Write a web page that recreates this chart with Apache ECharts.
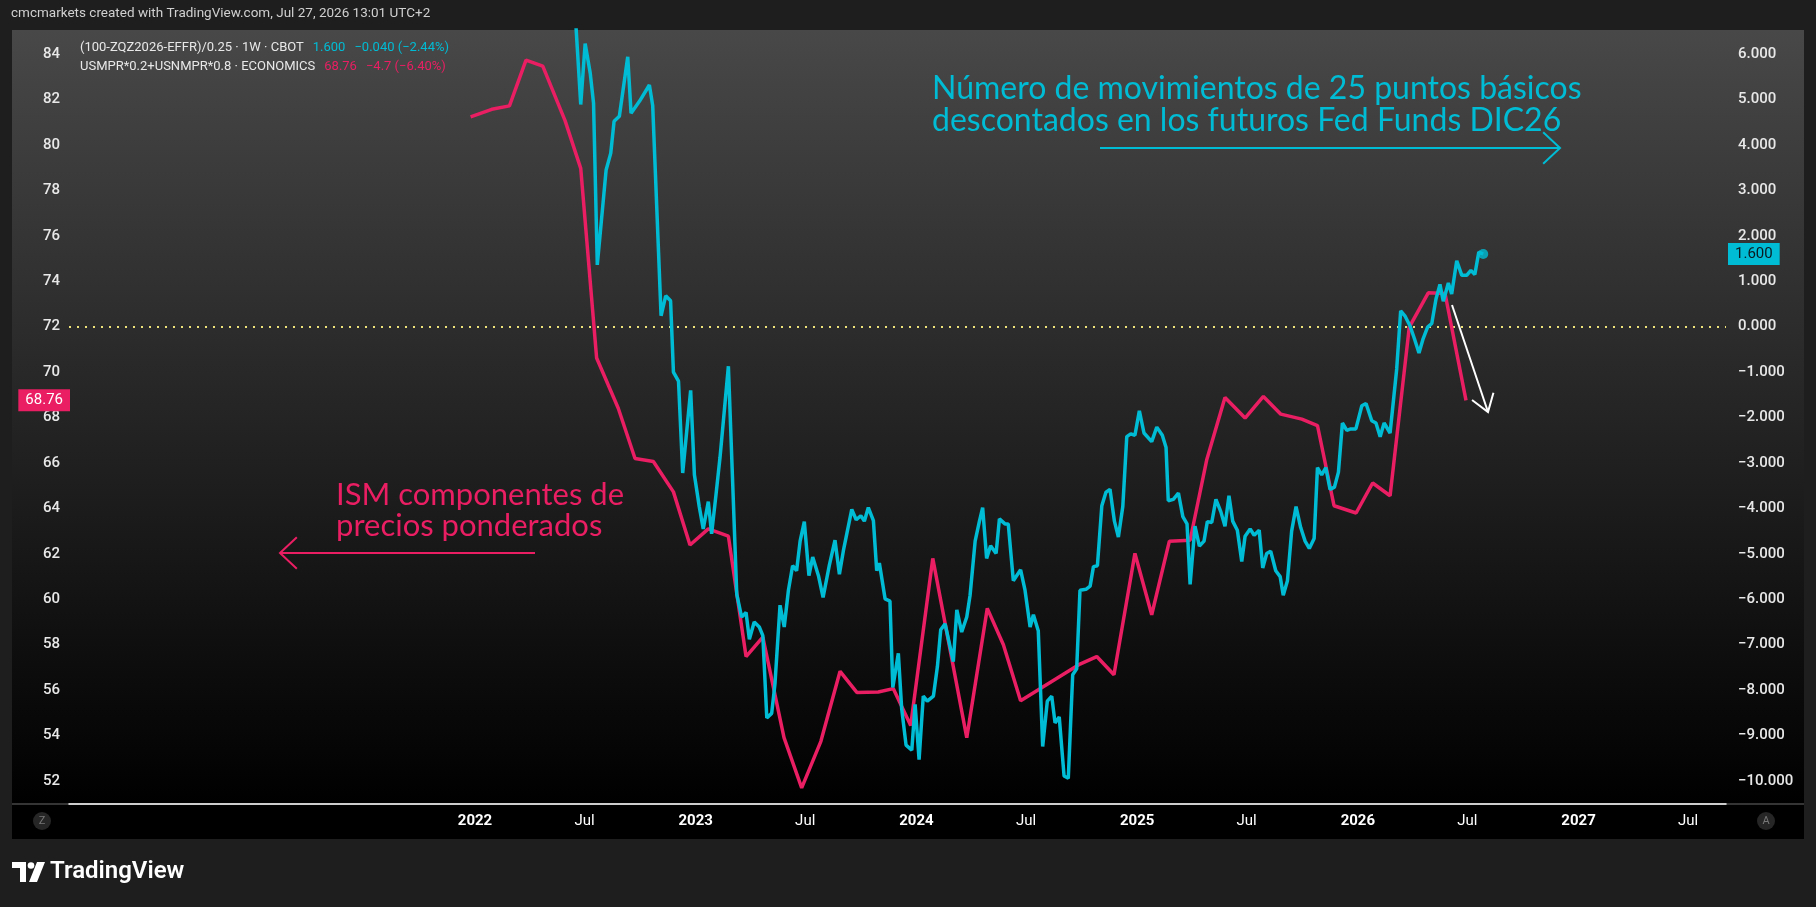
<!DOCTYPE html>
<html><head><meta charset="utf-8">
<script src="https://cdn.jsdelivr.net/npm/echarts@6/dist/echarts.min.js"></script>
<style>html,body{margin:0;padding:0;background:#1e1e1e;overflow:hidden}#c{width:1816px;height:907px}</style>
</head><body><div id="c"></div>
<script>
// ---------- data ----------
const xTickValues = [2022, 2022.496, 2023, 2023.496, 2024, 2024.497, 2025, 2025.496, 2026, 2026.496, 2027, 2027.496];
const leftTicks = [52, 54, 56, 58, 60, 62, 64, 66, 68, 70, 72, 74, 76, 78, 80, 82, 84];
const rightTicks = [-10, -9, -8, -7, -6, -5, -4, -3, -2, -1, 0, 1, 2, 3, 4, 5, 6];
const zeroLevel = 72; // left-axis level that lines up with 0 on the right axis

// ISM prices (weighted) – left axis, monthly
const ismT = [2021.980, 2022.076, 2022.156, 2022.231, 2022.307, 2022.408, 2022.479, 2022.551, 2022.649, 2022.725,
  2022.808, 2022.899, 2022.974, 2023.057, 2023.148, 2023.228, 2023.304, 2023.400, 2023.480, 2023.567,
  2023.654, 2023.730, 2023.827, 2023.895, 2023.974, 2024.074, 2024.228, 2024.321, 2024.394, 2024.472,
  2024.741, 2024.817, 2024.895, 2024.990, 2025.066, 2025.146, 2025.240, 2025.315, 2025.398, 2025.489,
  2025.572, 2025.651, 2025.746, 2025.817, 2025.892, 2025.992, 2026.067, 2026.146, 2026.233, 2026.319,
  2026.395, 2026.490];
const ismV = [81.24, 81.57, 81.72, 83.73, 83.47, 81.07, 78.97, 70.62, 68.41, 66.20,
  66.07, 64.73, 62.39, 63.10, 62.78, 57.48, 58.34, 53.91, 51.70, 53.75,
  56.83, 55.90, 55.92, 56.07, 54.45, 61.80, 53.91, 59.60, 58.00, 55.53,
  57.15, 57.48, 56.68, 62.02, 59.32, 62.56, 62.60, 66.13, 68.88, 67.98,
  68.93, 68.15, 67.93, 67.65, 64.12, 63.80, 65.12, 64.56, 71.98, 73.49,
  73.46, 68.76];

// (100-ZQZ2026-EFFR)/0.25 – right axis, weekly
const ffT = [2022.450, 2022.479, 2022.499, 2022.522, 2022.537, 2022.554, 2022.594, 2022.615, 2022.630, 2022.654,
  2022.692, 2022.707, 2022.745, 2022.790, 2022.805, 2022.843, 2022.864, 2022.886, 2022.899, 2022.922,
  2022.941, 2022.977, 2022.994, 2023.016, 2023.034, 2023.057, 2023.072, 2023.092, 2023.110, 2023.148,
  2023.186, 2023.208, 2023.228, 2023.243, 2023.265, 2023.288, 2023.304, 2023.322, 2023.344, 2023.359,
  2023.382, 2023.401, 2023.420, 2023.439, 2023.457, 2023.473, 2023.492, 2023.513, 2023.530, 2023.556,
  2023.577, 2023.605, 2023.631, 2023.651, 2023.669, 2023.707, 2023.727, 2023.748, 2023.764, 2023.782,
  2023.805, 2023.820, 2023.832, 2023.858, 2023.880, 2023.893, 2023.918, 2023.933, 2023.953, 2023.979,
  2023.994, 2024.012, 2024.031, 2024.049, 2024.077, 2024.095, 2024.110, 2024.130, 2024.167, 2024.183,
  2024.205, 2024.228, 2024.243, 2024.266, 2024.285, 2024.300, 2024.318, 2024.336, 2024.361, 2024.376,
  2024.401, 2024.416, 2024.439, 2024.472, 2024.492, 2024.515, 2024.530, 2024.552, 2024.572, 2024.593,
  2024.613, 2024.628, 2024.647, 2024.669, 2024.688, 2024.708, 2024.726, 2024.741, 2024.768, 2024.787,
  2024.802, 2024.820, 2024.840, 2024.859, 2024.877, 2024.897, 2024.915, 2024.935, 2024.953, 2024.971,
  2024.990, 2025.010, 2025.031, 2025.066, 2025.089, 2025.114, 2025.131, 2025.141, 2025.164, 2025.187,
  2025.207, 2025.226, 2025.240, 2025.262, 2025.282, 2025.303, 2025.318, 2025.338, 2025.357, 2025.379,
  2025.398, 2025.416, 2025.433, 2025.454, 2025.474, 2025.489, 2025.512, 2025.530, 2025.553, 2025.569,
  2025.587, 2025.605, 2025.628, 2025.648, 2025.662, 2025.681, 2025.700, 2025.720, 2025.741, 2025.761,
  2025.780, 2025.802, 2025.817, 2025.836, 2025.855, 2025.874, 2025.894, 2025.912, 2025.930, 2025.950,
  2025.968, 2025.991, 2026.018, 2026.037, 2026.063, 2026.082, 2026.101, 2026.119, 2026.146, 2026.176,
  2026.194, 2026.213, 2026.236, 2026.256, 2026.277, 2026.296, 2026.316, 2026.335, 2026.354, 2026.372,
  2026.387, 2026.410, 2026.425, 2026.448, 2026.471, 2026.493, 2026.512, 2026.530, 2026.548, 2026.568];
const ffV = [7.20, 4.89, 6.23, 5.58, 4.92, 1.36, 3.45, 3.82, 4.52, 4.63,
  5.94, 4.70, 4.96, 5.32, 4.87, 0.24, 0.68, 0.57, -1.00, -1.20,
  -3.22, -1.40, -3.26, -3.96, -4.45, -3.85, -4.56, -3.69, -2.88, -0.87,
  -5.89, -6.39, -6.29, -6.88, -6.50, -6.61, -6.80, -8.61, -8.51, -7.86,
  -6.13, -6.61, -5.80, -5.26, -5.37, -4.72, -4.29, -5.48, -5.07, -5.48,
  -5.96, -5.26, -4.70, -5.45, -4.93, -4.02, -4.25, -4.16, -4.28, -3.98,
  -4.27, -5.37, -5.20, -5.99, -6.04, -7.94, -7.19, -8.40, -9.21, -9.32,
  -8.31, -9.53, -8.13, -8.24, -8.13, -7.48, -6.67, -6.54, -7.37, -6.23,
  -6.72, -6.39, -5.91, -4.72, -4.29, -3.98, -5.10, -4.82, -4.99, -4.23,
  -4.34, -4.34, -5.59, -5.35, -5.80, -6.61, -6.34, -6.69, -9.24, -8.24,
  -8.13, -8.72, -8.59, -9.89, -9.94, -7.66, -7.53, -5.80, -5.78, -5.71,
  -5.28, -5.26, -3.94, -3.64, -3.58, -4.28, -4.63, -3.96, -2.42, -2.36,
  -2.39, -1.85, -2.34, -2.53, -2.21, -2.39, -2.66, -3.83, -3.80, -3.66,
  -4.18, -4.34, -5.67, -4.39, -4.83, -4.72, -4.29, -4.31, -3.80, -4.07,
  -4.39, -3.72, -4.28, -4.48, -5.17, -4.61, -4.45, -4.59, -4.48, -5.31,
  -4.99, -4.94, -5.37, -5.50, -5.91, -5.59, -4.50, -3.96, -4.42, -4.72,
  -4.88, -4.66, -3.10, -3.26, -3.10, -3.58, -3.53, -3.20, -2.12, -2.28,
  -2.25, -2.25, -1.74, -1.69, -2.07, -2.12, -2.42, -2.12, -2.34, -0.93,
  0.35, 0.24, 0.02, -0.26, -0.58, -0.26, -0.01, 0.07, 0.61, 0.93,
  0.56, 0.96, 0.72, 1.45, 1.13, 1.13, 1.24, 1.15, 1.64, 1.60];

// ---------- derived ----------
const ismLast = ismV[ismV.length - 1], ismPrev = ismV[ismV.length - 2];
const ffLast = ffV[ffV.length - 1], ffPrev = ffV[ffV.length - 2];
const minus = s => s.replace(/-/g, '\u2212');
const ffChg = minus((ffLast - ffPrev).toFixed(3) + ' (' + ((ffLast - ffPrev) / ffPrev * 100).toFixed(2) + '%)');
const ismChg = minus((ismLast - ismPrev).toFixed(1) + ' (' + ((ismLast - ismPrev) / ismPrev * 100).toFixed(2) + '%)');

const CYAN = '#00bcd4', RED = '#e91e63', TXT = '#e8e8e8', DOT = '#efe47a';
const FONT = 'Roboto, "Noto Sans", sans-serif';
const ANNO = 'Lato, "Open Sans", sans-serif';

// layout (pixels)
const G = {left: 69, right: 1726, top: 30, bottom: 804};
const XMIN = 2020.1604, XMAX = 2027.668;
const LMIN = 50.99, LMAX = 85.06;
const RMIN = (LMIN - zeroLevel) / 2, RMAX = (LMAX - zeroLevel) / 2;

const chart = echarts.init(document.getElementById('c'), null, {renderer: 'canvas'});

function arrow(x1, y1, x2, y2, color, w, head, spread) {
  const a = Math.atan2(y2 - y1, x2 - x1);
  const p1 = [x2 - head * Math.cos(a - spread), y2 - head * Math.sin(a - spread)];
  const p2 = [x2 - head * Math.cos(a + spread), y2 - head * Math.sin(a + spread)];
  return [
    {type: 'line', z: 100, shape: {x1, y1, x2, y2}, style: {stroke: color, lineWidth: w}},
    {type: 'polyline', z: 100, shape: {points: [p1, [x2, y2], p2]}, style: {stroke: color, lineWidth: w, fill: null}}
  ];
}

function legendLine(y, label, value, chg, color) {
  return {type: 'text', z: 100, x: 80, y: y, style: {
    text: '{a|' + label + '}{v|' + value + '}{v|' + chg + '}',
    verticalAlign: 'middle',
    rich: {
      a: {fill: TXT, font: '13px ' + FONT},
      v: {fill: color, font: '13px ' + FONT, padding: [0, 0, 0, 9]}
    }
  }};
}

const graphics = [
  // pane background
  {type: 'rect', z: -100, silent: true, shape: {x: 12, y: 30, width: 1792, height: 774},
    style: {fill: new echarts.graphic.LinearGradient(0, 0, 0, 1, [{offset: 0, color: '#484848'}, {offset: 1, color: '#000000'}])}},
  {type: 'rect', z: -100, silent: true, shape: {x: 12, y: 804, width: 1792, height: 35}, style: {fill: '#000000'}},
  {type: 'line', z: -90, silent: true, shape: {x1: 12, y1: 804, x2: 1804, y2: 804}, style: {stroke: '#6a6a6a', lineWidth: 1}},
  // top credit
  {type: 'text', z: 100, x: 11, y: 14, style: {text: 'cmcmarkets created with TradingView.com, Jul 27, 2026 13:01 UTC+2',
    fill: '#d0d0d0', font: '13.5px ' + FONT, verticalAlign: 'middle'}},
  // legend lines
  legendLine(48, '(100-ZQZ2026-EFFR)/0.25 \u00b7 1W \u00b7 CBOT', ffLast.toFixed(3), ffChg, CYAN),
  legendLine(67, 'USMPR*0.2+USNMPR*0.8 \u00b7 ECONOMICS', ismLast.toFixed(2), ismChg, RED),
  // annotations
  {type: 'text', z: 100, x: 932, y: 89, style: {text: 'Número de movimientos de 25 puntos básicos', fill: CYAN, font: '32px ' + ANNO, verticalAlign: 'middle'}},
  {type: 'text', z: 100, x: 932, y: 121, style: {text: 'descontados en los futuros Fed Funds DIC26', fill: CYAN, font: '32px ' + ANNO, verticalAlign: 'middle'}},
  {type: 'text', z: 100, x: 336, y: 495, style: {text: 'ISM componentes de', fill: RED, font: '31px ' + ANNO, verticalAlign: 'middle'}},
  {type: 'text', z: 100, x: 336, y: 526, style: {text: 'precios ponderados', fill: RED, font: '31px ' + ANNO, verticalAlign: 'middle'}},
  ...arrow(1100, 148, 1560, 148, CYAN, 2, 23, 0.75),
  ...arrow(535, 553, 280, 553, RED, 2, 23, 0.75),
  ...arrow(1452, 305, 1488, 412, '#ffffff', 2, 20, 0.6),
  // Z / A buttons
  {type: 'circle', z: 100, shape: {cx: 42, cy: 821, r: 9}, style: {fill: '#262626'}},
  {type: 'text', z: 101, x: 42, y: 821, style: {text: 'Z', fill: '#777', font: '11px ' + FONT, align: 'center', verticalAlign: 'middle'}},
  {type: 'circle', z: 100, shape: {cx: 1766, cy: 821, r: 9}, style: {fill: '#262626'}},
  {type: 'text', z: 101, x: 1766, y: 821, style: {text: 'A', fill: '#777', font: '11px ' + FONT, align: 'center', verticalAlign: 'middle'}},
  // TradingView logo
  {type: 'polygon', z: 100, shape: {points: [[12, 862], [26, 862], [26, 882], [20, 882], [20, 868], [12, 868]]}, style: {fill: '#ffffff'}},
  {type: 'circle', z: 100, shape: {cx: 31, cy: 865.5, r: 3.3}, style: {fill: '#ffffff'}},
  {type: 'polygon', z: 100, shape: {points: [[37, 862], [45, 862], [37, 882], [29, 882]]}, style: {fill: '#ffffff'}},
  {type: 'text', z: 100, x: 50, y: 872, style: {text: 'TradingView', fill: '#ffffff', font: '600 24px ' + FONT, verticalAlign: 'middle'}}
];

const baseY = {
  type: 'value', splitLine: {show: false}, axisLine: {show: false}, axisTick: {show: false}
};

chart.setOption({
  backgroundColor: '#1e1e1e',
  animation: false,
  grid: {left: G.left, right: 1816 - G.right, top: G.top, bottom: 907 - G.bottom, containLabel: false},
  xAxis: {
    type: 'value', min: XMIN, max: XMAX,
    splitLine: {show: false}, axisTick: {show: false},
    axisLine: {show: true, onZero: false, lineStyle: {color: '#ffffff', width: 1.5}},
    axisLabel: {
      customValues: xTickValues, margin: 10, color: '#ffffff', fontSize: 15, fontFamily: FONT,
      formatter: v => Math.abs(v - Math.round(v)) < 0.01 ? '{y|' + Math.round(v) + '}' : 'Jul',
      rich: {y: {fontWeight: 'bold', fontSize: 15, fontFamily: FONT, color: '#ffffff'}}
    }
  },
  yAxis: [
    Object.assign({}, baseY, {position: 'left', min: LMIN, max: LMAX,
      axisLabel: {customValues: leftTicks, margin: 9, color: TXT, fontSize: 15, fontWeight: 500, fontFamily: FONT}}),
    Object.assign({}, baseY, {position: 'right', min: RMIN, max: RMAX,
      axisLabel: {customValues: rightTicks, margin: 12, color: TXT, fontSize: 15, fontWeight: 500, fontFamily: FONT,
        formatter: v => minus(v.toFixed(3))}}),
    Object.assign({}, baseY, {position: 'left', min: LMIN, max: LMAX,
      axisLabel: {customValues: [ismLast], margin: -1, color: '#ffffff', fontSize: 15, fontFamily: FONT,
        backgroundColor: RED, padding: [4, 7, 3, 7], formatter: v => v.toFixed(2)}}),
    Object.assign({}, baseY, {position: 'right', min: RMIN, max: RMAX,
      axisLabel: {customValues: [ffLast], margin: 2, color: '#0b1a20', fontSize: 15, fontFamily: FONT,
        backgroundColor: CYAN, padding: [4, 7, 3, 7], formatter: v => v.toFixed(3)}})
  ],
  series: [
    {
      type: 'line', name: 'ISM', yAxisIndex: 0, showSymbol: false, z: 3,
      data: ismT.map((t, i) => [t, ismV[i]]),
      lineStyle: {color: RED, width: 3.5}, itemStyle: {color: RED},
      markLine: {silent: true, symbol: 'none', label: {show: false}, z: 1,
        lineStyle: {color: DOT, width: 2, type: [2, 6], cap: 'butt'},
        data: [{yAxis: zeroLevel}]}
    },
    {
      type: 'line', name: 'FF', yAxisIndex: 1, showSymbol: false, z: 4,
      data: ffT.map((t, i) => [t, ffV[i]]),
      lineStyle: {color: CYAN, width: 3.5}, itemStyle: {color: CYAN}
    },
    {
      type: 'scatter', yAxisIndex: 1, z: 5, symbolSize: 10,
      data: [[ffT[ffT.length - 1], ffLast]], itemStyle: {color: CYAN}
    }
  ],
  graphic: {elements: graphics}
});
</script>
</body></html>
